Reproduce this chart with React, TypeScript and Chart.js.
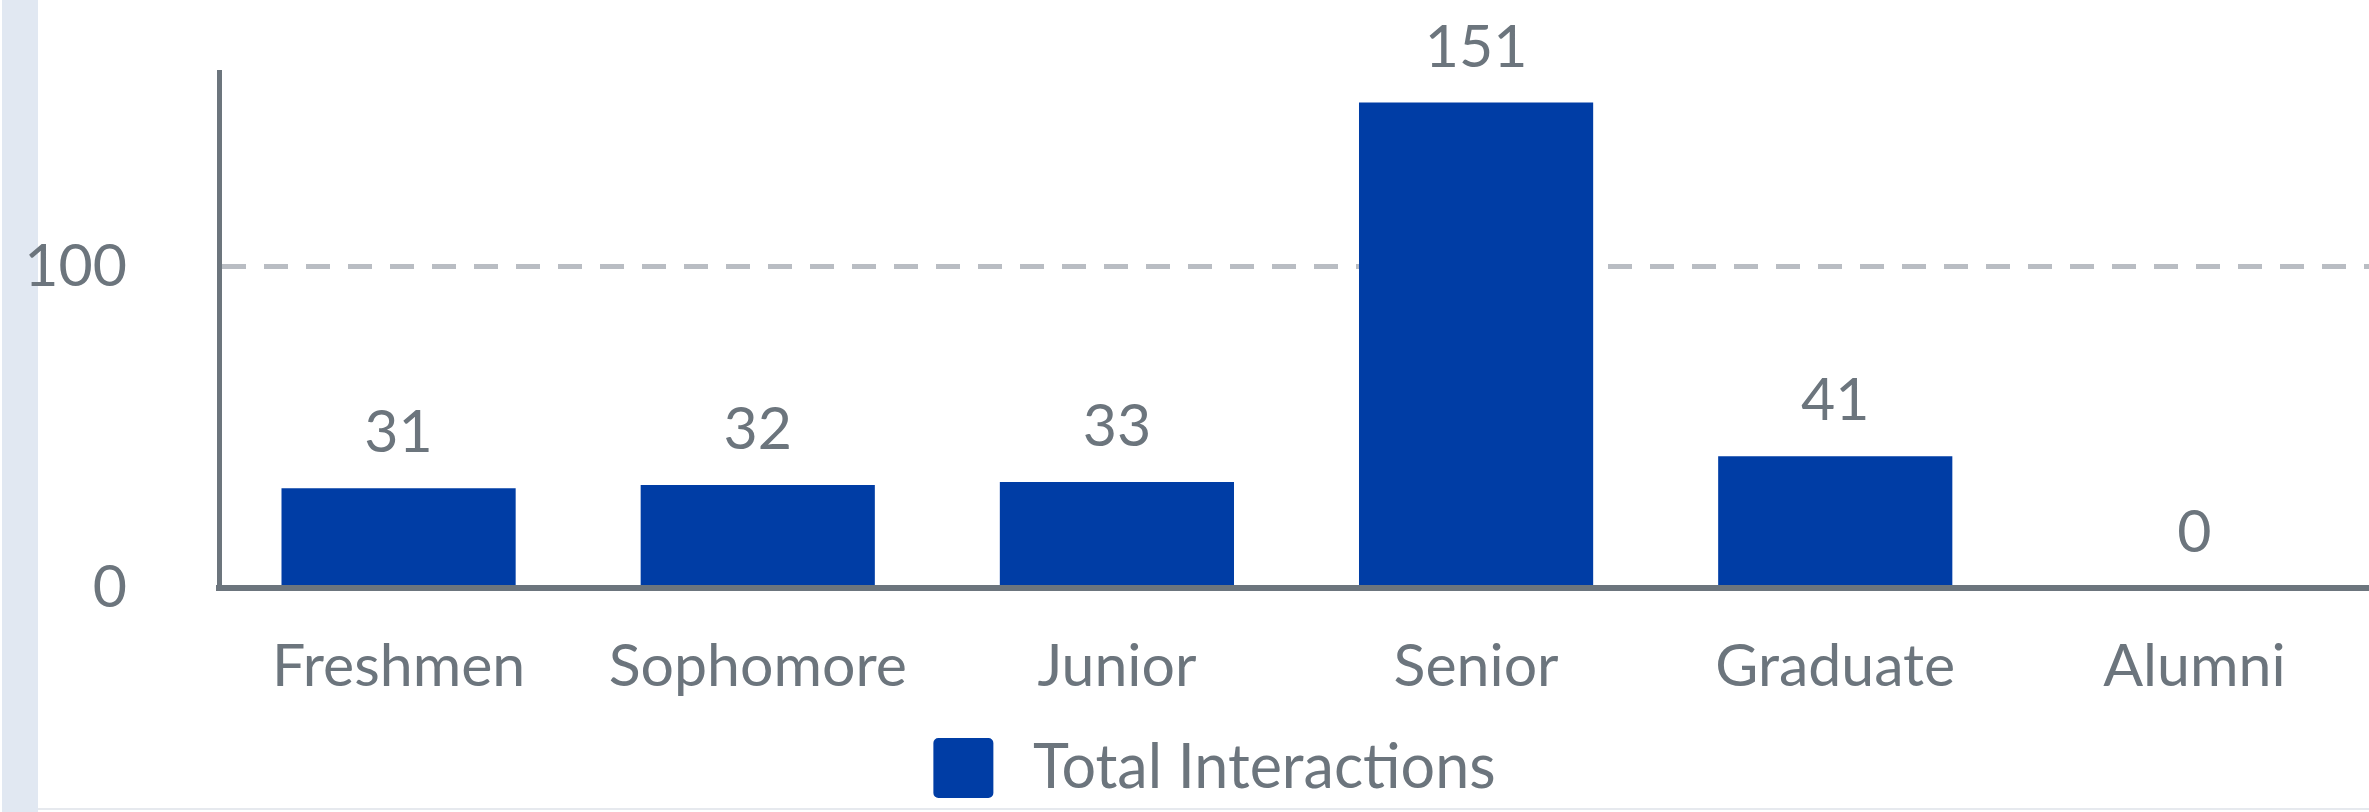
import React, { useEffect, useRef } from "react";
import { Chart, registerables } from "chart.js";

Chart.register(...registerables);

const categories = ["Freshmen", "Sophomore", "Junior", "Senior", "Graduate", "Alumni"];
const interactions = [31, 32, 33, 151, 41, 0];
const yTickValues = [0, 100];
const seriesLabel = "Total Interactions";

const BLUE = "#003da5";
const GREY = "#6c757d";
const GRID = "#b9bdc3";
const FONT_FAMILY = "Lato, 'Open Sans', sans-serif";

const CANVAS_W = 2420;
const CANVAS_H = 817;

const valueLabels = {
  id: "valueLabels",
  afterDatasetsDraw(chart: any) {
    const ctx = chart.ctx;
    const meta = chart.getDatasetMeta(0);
    const data = chart.data.datasets[0].data as number[];
    ctx.save();
    ctx.font = `59px ${FONT_FAMILY}`;
    ctx.fillStyle = GREY;
    ctx.textAlign = "center";
    ctx.textBaseline = "alphabetic";
    meta.data.forEach((bar: any, i: number) => {
      ctx.fillText(String(data[i]), bar.x, bar.y - 36);
    });
    ctx.restore();
  },
};

export default function App() {
  const canvasRef = useRef<HTMLCanvasElement | null>(null);

  useEffect(() => {
    if (!canvasRef.current) return;
    const chart = new Chart(canvasRef.current, {
      type: "bar",
      data: {
        labels: categories,
        datasets: [
          {
            label: seriesLabel,
            data: interactions,
            backgroundColor: BLUE,
            borderWidth: 0,
            categoryPercentage: 1,
            barPercentage: 0.652,
          },
        ],
      },
      options: {
        responsive: false,
        animation: false,
        devicePixelRatio: 1,
        layout: { padding: { top: 72, right: 0, left: 0, bottom: 0 } },
        plugins: {
          tooltip: { enabled: false },
          legend: {
            position: "bottom",
            labels: {
              boxWidth: 78,
              boxHeight: 78,
              useBorderRadius: true,
              borderRadius: 14,
              padding: 10,
              color: GREY,
              font: { family: FONT_FAMILY, size: 61 },
              generateLabels: (chart: any) =>
                Chart.defaults.plugins.legend.labels.generateLabels(chart).map((item: any) => ({
                  ...item,
                  fillStyle: BLUE,
                  strokeStyle: "#ffffff",
                  lineWidth: 18,
                  fontColor: GREY,
                })),
            },
          },
        },
        scales: {
          x: {
            grid: { display: false },
            border: { display: true, color: GREY, width: 6, z: 1 },
            ticks: {
              color: GREY,
              font: { family: FONT_FAMILY, size: 59 },
              padding: 36,
              maxRotation: 0,
              autoSkip: false,
            },
            afterFit: (s: any) => {
              s.height = 131;
            },
          },
          y: {
            min: 0,
            max: 160.5,
            afterBuildTicks: (s: any) => {
              s.ticks = yTickValues.map((v) => ({ value: v }));
            },
            grid: {
              drawTicks: false,
              lineWidth: 5,
              color: (c: any) => (c.tick && c.tick.value === 0 ? "rgba(0,0,0,0)" : GRID),
            },
            border: { display: true, color: GREY, width: 5, dash: [24, 18] },
            ticks: {
              color: GREY,
              font: { family: FONT_FAMILY, size: 59 },
              padding: 92,
            },
            afterFit: (s: any) => {
              s.width = 219;
              s.paddingTop = 0;
              s.paddingBottom = 0;
            },
          },
          rightSpacer: {
            type: "linear",
            position: "right",
            display: true,
            grid: { display: false, drawTicks: false },
            border: { display: false },
            ticks: { display: false },
            afterFit: (s: any) => {
              s.width = 46;
              s.paddingTop = 0;
              s.paddingBottom = 0;
            },
          },
        },
      },
      plugins: [valueLabels],
    });
    return () => chart.destroy();
  }, []);

  return (
    <div
      style={{
        position: "fixed",
        left: 0,
        top: 0,
        width: 2369,
        height: 812,
        overflow: "hidden",
        background: "#ffffff",
      }}
    >
      <div
        style={{
          position: "absolute",
          left: 2,
          top: 0,
          width: 36,
          height: 812,
          background: "#e1e8f2",
        }}
      />
      <canvas
        ref={canvasRef}
        width={CANVAS_W}
        height={CANVAS_H}
        style={{ position: "absolute", left: 0, top: 0, width: CANVAS_W, height: CANVAS_H }}
      />
      <div
        style={{
          position: "absolute",
          left: 38,
          right: 0,
          bottom: 2,
          height: 2,
          background: "#e6e9ee",
        }}
      />
    </div>
  );
}
